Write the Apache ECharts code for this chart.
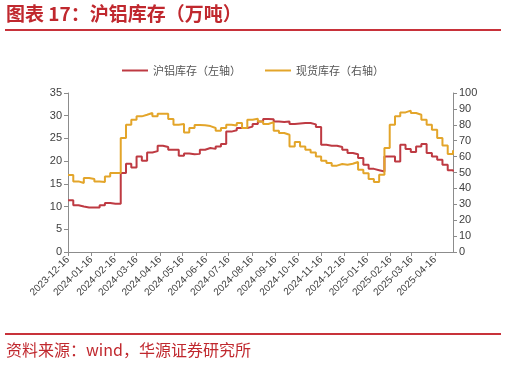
<!DOCTYPE html>
<html><head><meta charset="utf-8">
<script src="https://cdn.jsdelivr.net/npm/echarts@6/dist/echarts.min.js"></script>
<style>html,body{margin:0;padding:0;background:#fff}#c{width:506px;height:367px}</style>
</head><body><div id="c"></div>
<script>
const titleText = '图表 17：沪铝库存（万吨）';
const sourceText = '资料来源：wind，华源证券研究所';
const seriesNames = ['沪铝库存（左轴）', '现货库存（右轴）'];
const tickLabels = ['2023-12-16','2024-01-16','2024-02-16','2024-03-16','2024-04-16','2024-05-16','2024-06-16','2024-07-16','2024-08-16','2024-09-16','2024-10-16','2024-11-16','2024-12-16','2025-01-16','2025-02-16','2025-03-16','2025-04-16'];
const firstWeek = '2023-12-16';
const lastDay = '2025-05-10';
// weekly readings (万吨)
const shfeStock = [11.4,10.3,10.0,9.8,9.8,9.8,10.3,10.8,10.6,10.6,
  17.4,19.4,18.6,21.0,20.1,21.9,22.2,23.4,23.1,22.5,
  22.5,21.2,21.7,21.5,21.6,22.5,22.9,22.7,23.2,23.8,
  26.5,26.8,27.3,27.3,27.6,28.2,28.7,29.3,29.2,28.7,
  28.6,28.7,28.2,28.3,28.4,28.4,28.1,27.5,23.6,23.4,
  23.4,23.1,22.5,21.8,21.5,20.7,19.2,18.3,18.0,17.7,
  21.0,21.0,19.9,23.6,22.7,22.0,23.2,23.8,21.8,21.0,
  20.3,19.2,18.0,17.7];
const spotStock = [48.5,44.4,43.4,46.5,45.9,44.4,44.0,47.5,49.7,49.7,
  71.7,80.1,83.2,85.3,86.3,87.4,85.3,87.0,87.0,83.6,
  80.1,80.5,75.2,78.0,79.9,79.7,79.2,78.0,76.3,78.0,
  80.1,79.5,81.1,78.0,83.2,83.8,82.1,80.5,81.7,76.3,
  74.8,73.7,66.4,69.2,66.4,64.3,62.6,60.1,57.4,56.0,
  54.3,55.3,54.9,55.5,56.6,51.8,49.5,45.9,44.0,48.6,
  65.4,80.1,85.3,87.8,88.9,87.4,86.3,83.2,80.1,76.9,
  71.7,67.0,61.6,64.0];

function utc(s){const p=s.split('-').map(Number);return Date.UTC(p[0],p[1]-1,p[2]);}
const DAY=86400000;
const weekDates = shfeStock.map((_,i)=>utc(firstWeek)+i*7*DAY);
const tickValues = tickLabels.map(utc);
const tickMap = {}; tickLabels.forEach((s,i)=>{tickMap[tickValues[i]]=s;});

const RED='#BE3A42', GOLD='#E3A52A', AX='#8C8C8C', TXT='#404040';
const FONT='"Noto Sans CJK SC", "Liberation Sans", sans-serif';
const chart = echarts.init(document.getElementById('c'));
chart.setOption({
  animation:false,
  backgroundColor:'#fff',
  textStyle:{fontFamily:FONT},
  grid:{left:68,right:53,top:93,bottom:115,containLabel:false},
  legend:{top:60,left:'center',itemWidth:26,itemHeight:2,itemGap:24,icon:'rect',
    textStyle:{fontSize:11,color:'#555',fontFamily:FONT},data:seriesNames},
  xAxis:{type:'value',min:utc(firstWeek),max:utc(lastDay),
    axisLine:{lineStyle:{color:AX,width:1}},
    axisTick:{show:true,length:4,lineStyle:{color:AX},customValues:tickValues},
    axisLabel:{customValues:tickValues,rotate:45,fontSize:10,color:TXT,margin:6,
      fontFamily:'"Liberation Sans", Arial, sans-serif',
      formatter:v=>tickMap[v]||''},
    splitLine:{show:false}},
  yAxis:[
    {type:'value',min:0,max:35,interval:5,position:'left',
     axisLine:{show:true,lineStyle:{color:AX}},axisTick:{show:true,length:4,lineStyle:{color:AX}},
     axisLabel:{fontSize:11,color:TXT,margin:6,fontFamily:'"Liberation Sans", Arial, sans-serif'},splitLine:{show:false}},
    {type:'value',min:0,max:100,interval:10,position:'right',
     axisLine:{show:true,lineStyle:{color:AX}},axisTick:{show:true,length:4,lineStyle:{color:AX}},
     axisLabel:{fontSize:11,color:TXT,margin:6,fontFamily:'"Liberation Sans", Arial, sans-serif'},splitLine:{show:false}}
  ],
  series:[
    {name:seriesNames[0],type:'line',yAxisIndex:0,step:'end',showSymbol:false,
     lineStyle:{color:RED,width:2},itemStyle:{color:RED},
     data:weekDates.map((d,i)=>[d,shfeStock[i]])},
    {name:seriesNames[1],type:'line',yAxisIndex:1,step:'end',showSymbol:false,
     lineStyle:{color:GOLD,width:2},itemStyle:{color:GOLD},
     data:weekDates.map((d,i)=>[d,spotStock[i]])}
  ],
  graphic:[
    {type:'text',left:6,top:4,style:{text:titleText,fill:'#C0282E',font:'bold 19px '+FONT}},
    {type:'line',shape:{x1:5,y1:30,x2:501,y2:30},style:{stroke:'#C8323A',lineWidth:2}},
    {type:'line',shape:{x1:5,y1:334,x2:501,y2:334},style:{stroke:'#C8323A',lineWidth:2}},
    {type:'text',left:6,top:342,style:{text:sourceText,fill:'#C0282E',font:'16px '+FONT}}
  ]
});
</script></body></html>
